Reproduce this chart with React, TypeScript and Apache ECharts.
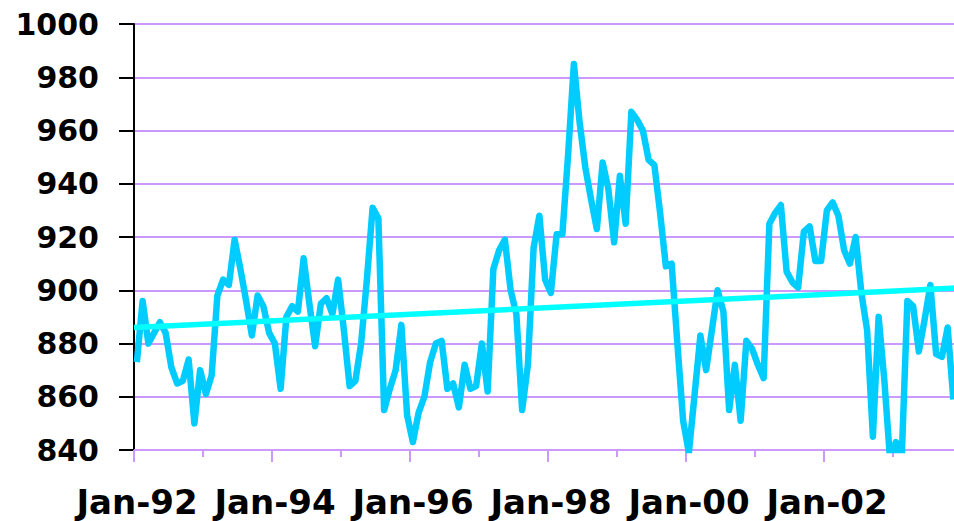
import React, { useEffect, useRef } from 'react';
import * as echarts from 'echarts';

// Monthly values, Jan-92 .. Nov-03 (one value per month, plotted mid-month)
const monthlyValues: number[] = [
  873, 896, 880, 884, 888, 884, 871, 865, 866, 874,
  850, 870, 861, 868, 898, 904, 902, 919, 908, 896,
  883, 898, 894, 884, 880, 863, 890, 894, 892, 912,
  895, 879, 895, 897, 891, 904, 885, 864, 866, 880,
  904, 931, 927, 855, 863, 870, 887, 853, 843, 854,
  860, 873, 880, 881, 863, 865, 856, 872, 863, 864,
  880, 862, 908, 915, 919, 900, 891, 855, 872, 916,
  928, 904, 899, 921, 921, 951, 985, 963, 946, 934,
  923, 948, 938, 918, 943, 925, 967, 964, 960, 949,
  947, 929, 909, 910, 880, 851, 839, 861, 883, 870,
  885, 900, 892, 855, 872, 851, 881, 878, 872, 867,
  925, 929, 932, 907, 903, 901, 922, 924, 911, 911,
  930, 933, 928, 915, 910, 920, 899, 885, 845, 890,
  866, 836, 843, 836, 896, 894, 877, 889, 902, 876,
  875, 886, 859,
];

// Linear trend: read at its two ends (months since Jan-92)
const trendMonths: number[] = [0, 143];
const trendValues: number[] = [886, 900.8];

// X tick labels, one every 24 months starting Jan-92
const xTickLabels: string[] = ['Jan-92', 'Jan-94', 'Jan-96', 'Jan-98', 'Jan-00', 'Jan-02'];

const Y_MIN = 840;
const Y_MAX = 1000;
const Y_STEP = 20;

export default function App() {
  const ref = useRef<HTMLDivElement>(null);

  useEffect(() => {
    if (!ref.current) return;
    const chart = echarts.init(ref.current, undefined, { renderer: 'svg' });
    const purple = '#CC99FF';
    const labelFont = 'DejaVu Sans';
    const option: any = {
      animation: false,
      grid: { left: 134, right: 0, top: 24, bottom: 71, containLabel: false },
      xAxis: {
        type: 'value',
        min: 0,
        max: 144,
        interval: 24,
        axisLine: { show: true, onZero: false, lineStyle: { color: purple, width: 2 } },
        axisTick: { show: true, length: 12, lineStyle: { color: purple, width: 2 } },
        minorTick: { show: true, splitNumber: 2, length: 7, lineStyle: { color: purple, width: 2 } },
        splitLine: { show: false },
        minorSplitLine: { show: false },
        axisLabel: {
          showMaxLabel: false,
          formatter: (v: number) => xTickLabels[Math.round(v / 24)] ?? '',
          fontSize: 34,
          fontWeight: 'bold',
          fontFamily: labelFont,
          color: '#000',
          margin: 35,
          lineHeight: 34,
          padding: [0, 0, 0, 6],
        },
      },
      yAxis: {
        type: 'value',
        min: Y_MIN,
        max: Y_MAX,
        interval: Y_STEP,
        axisLine: { show: true, lineStyle: { color: '#000', width: 2 } },
        axisTick: { show: true, length: 15, lineStyle: { color: '#000', width: 2 } },
        splitLine: { show: true, lineStyle: { color: purple, width: 2 } },
        axisLabel: {
          formatter: (v: number) => String(v),
          fontSize: 30,
          fontWeight: 'bold',
          fontFamily: labelFont,
          color: '#000',
          margin: 35,
        },
      },
      series: [
        {
          type: 'line',
          data: monthlyValues.map((v, i) => [i + 0.5, v]),
          showSymbol: false,
          symbol: 'none',
          clip: true,
          lineStyle: { color: '#00CCFF', width: 6.5, join: 'round' },
          z: 2,
        },
        {
          type: 'line',
          data: trendMonths.map((m, i) => [m, trendValues[i]]),
          showSymbol: false,
          symbol: 'none',
          clip: true,
          lineStyle: { color: '#00FFFF', width: 5.5 },
          z: 3,
        },
      ],
    };
    chart.setOption(option);
    return () => chart.dispose();
  }, []);

  return (
    <div
      ref={ref}
      style={{ position: 'fixed', left: 0, top: 0, width: 962, height: 521, background: '#fff' }}
    />
  );
}
